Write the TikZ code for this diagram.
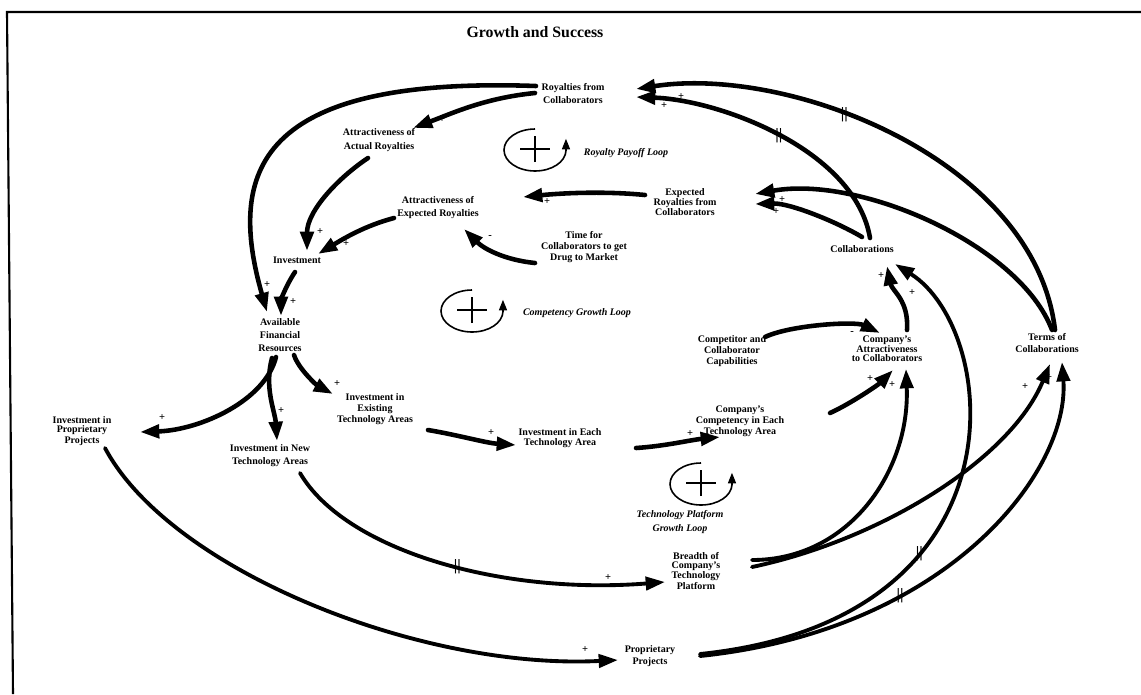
\documentclass[tikz,border=0pt]{standalone}
\usepackage{fontspec}
\setmainfont{Liberation Serif}
\usetikzlibrary{arrows.meta,calc}

\newcommand\vf[1]{\fontsize{5.7}{#1}\selectfont\bfseries}
\newcommand\lf[1]{\fontsize{5.7}{#1}\selectfont\bfseries\itshape}

\tikzset{
  var/.style={font=\vf{6.2}, align=center, inner sep=1pt},
  link/.style={line width=2.6pt, line cap=round, -{Triangle[length=11pt,width=7.5pt]}},
  thinlink/.style={link, line width=2.2pt},
  sgn/.style={font=\fontsize{6}{6}\selectfont\bfseries, inner sep=0pt},
  delay/.style={inner sep=0pt, font=\fontsize{9}{9}\selectfont\bfseries},
  rloop/.pic={
    \draw[line width=0.9pt, -{Triangle[length=6pt,width=4.5pt]}] (0,21) arc[start angle=90, end angle=358, x radius=31, y radius=21] -- ++(0,12);
    \draw[line width=1pt] (-15,1) -- (15,1) (0,-12) -- (0,14);
  }
}

\begin{document}
\begin{tikzpicture}[x=0.02cm, y=0.02cm]
  \useasboundingbox (0,0) rectangle (1141,-694);
  % frame
  \draw[line width=1.2pt] (13,-694) -- (7,-12) -- (1141,-12);
  \node[font=\fontsize{9}{10}\selectfont\bfseries] (title) at (535,-32) {Growth and Success};

  % variables
  \node[var, font=\vf{7.4}] (roy) at (573,-94) {Royalties from\\Collaborators};
  \node[var, font=\vf{8}] (aar) at (379,-140) {Attractiveness of\\Actual Royalties};
  \node[var, font=\vf{7.4}] (aer) at (438,-208) {Attractiveness of\\Expected Royalties};
  \node[var, font=\vf{5.7}] (erc) at (685,-202) {Expected\\Royalties from\\Collaborators};
  \node[var] (tcd) at (584,-247) {Time for\\Collaborators to get\\Drug to Market};
  \node[var] (inv) at (297,-260) {Investment};
  \node[var, font=\vf{7.4}] (afr) at (280,-335) {Available\\Financial\\Resources};
  \node[var] (col) at (862,-249) {Collaborations};
  \node[var, font=\vf{6.5}] (ccc) at (732,-351) {Competitor and\\Collaborator\\Capabilities};
  \node[var, font=\vf{5.4}] (cac) at (887,-349) {Company's\\Attractiveness\\to Collaborators};
  \node[var, font=\vf{6.3}] (toc) at (1047,-343) {Terms of\\Collaborations};
  \node[var, font=\vf{6.3}] (iet) at (375,-409) {Investment in\\Existing\\Technology Areas};
  \node[var, font=\vf{5.1}] (ipp) at (82,-431) {Investment in\\Proprietary\\Projects};
  \node[var, font=\vf{7.4}] (int) at (270,-456) {Investment in New\\Technology Areas};
  \node[var, font=\vf{5.7}] (iea) at (560,-438) {Investment in Each\\Technology Area};
  \node[var, font=\vf{4.6}] (cce) at (740,-421) {Company's\\Competency in Each\\Technology Area};
  \node[var, font=\vf{5.1}] (bct) at (696,-571) {Breadth of\\Company's\\Technology\\Platform};
  \node[var, font=\vf{6.8}] (prp) at (650,-656) {Proprietary\\Projects};

  % loops
  \pic (proy) at (535,-150) {rloop};
  \pic (pcomp) at (472,-311) {rloop};
  \pic (ptech) at (701,-484) {rloop};
  \node[var, font=\lf{6}] (lroy) at (626,-153) {Royalty Payoff Loop};
  \node[var, font=\lf{6}] (lcomp) at (577,-313) {Competency Growth Loop};
  \node[var, font=\lf{8}] (ltech) at (680,-522) {Technology Platform\\Growth Loop};

  % royalties
  \draw[link] ($(roy)+(-37,8)$) .. controls +(-280,10) and +(-40,140) .. ($(afr)+(-13,23)$);
  \draw[link] ($(roy)+(-38,1)$) .. controls +(-50,-5) and +(40,15) .. ($(aar)+(34,12)$);
  \draw[link] ($(aar)+(-11,-18)$) .. controls +(-30,-20) and +(0,40) .. ($(inv)+(10,9)$);
  \draw[link] ($(aer)+(-44,-10)$) .. controls +(-30,-8) and +(25,15) .. ($(inv)+(21,6)$);
  \draw[link] ($(inv)+(-2,-12)$) .. controls +(-10,-15) and +(0,15) .. ($(afr)+(1,19)$);
  \draw[link] ($(erc)+(-40,7)$) .. controls +(-40,4) and +(40,4) .. ($(aer)+(85,11)$);
  \draw[link] ($(tcd)+(-49,-16)$) .. controls +(-30,3) and +(20,-20) .. ($(aer)+(26,-21)$);

  % collaborations
  \draw[link] ($(col)+(8,11)$) .. controls +(-15,88) and +(84,-3) .. ($(roy)+(63,-3)$) node[delay, pos=.5] {||};
  \draw[link] ($(toc)+(8,13)$) .. controls +(-20,170) and +(154,24) .. ($(roy)+(63,5)$) node[delay, pos=.6] {||};
  \draw[link] ($(toc)+(5,13)$) .. controls +(-32,85) and +(105,19) .. ($(erc)+(70,8)$);
  \draw[link] ($(col)+(0,12)$) .. controls +(-25,15) and +(35,1) .. ($(erc)+(70,-2)$);
  \draw[link] ($(cac)+(20,19)$) .. controls +(2,30) and +(5,-25) .. ($(col)+(25,-17)$);
  \draw[link] ($(ccc)+(33,14)$) .. controls +(25,12) and +(-25,12) .. ($(cac)+(-7,16)$);
  \draw[link] ($(cce)+(90,8)$) .. controls +(20,9) and +(-15,-15) .. ($(cac)+(6,-21)$);
  \draw[thinlink] ($(bct)+(56,11)$) .. controls +(98,0) and +(4,-101) .. ($(cac)+(19,-20)$);
  \draw[thinlink] ($(bct)+(56,4)$) .. controls +(128,27) and +(-40,-96) .. ($(toc)+(3,-21)$);
  \draw[thinlink] ($(prp)+(50,2)$) .. controls +(330,34) and +(105,-66) .. ($(col)+(33,-15)$) node[delay, pos=.33] {||};
  \draw[thinlink] ($(prp)+(50,0)$) .. controls +(250,26) and +(8,-108) .. ($(toc)+(15,-19)$) node[delay, pos=.32] {||};

  % investment
  \draw[link] ($(afr)+(14,-20)$) .. controls +(5,-15) and +(-15,8) .. ($(iet)+(-42,15)$);
  \draw[link] ($(afr)+(-8,-23)$) .. controls +(-8,-30) and +(-2,30) .. ($(int)+(7,15)$);
  \draw[link] ($(afr)+(-4,-22)$) .. controls +(-11,-44) and +(60,2) .. ($(ipp)+(58,-1)$);
  \draw[link] ($(iet)+(53,-21)$) .. controls +(30,-5) and +(-30,2) .. ($(iea)+(-44,-7)$);
  \draw[link] ($(iea)+(76,-10)$) .. controls +(30,2) and +(-30,-3) .. ($(cce)+(-20,-16)$);
  \draw[thinlink] ($(int)+(30,-17)$) .. controls +(45,-77) and +(-165,-13) .. ($(bct)+(-31,-11)$) node[delay, pos=.55] {||};
  \draw[thinlink] ($(ipp)+(23,-17)$) .. controls +(65,-122) and +(-198,-10) .. ($(prp)+(-32,-4)$);

  % polarities
  \foreach \sx/\sy [count=\i] in {442/120, 267/285, 320/232, 346/244, 293/302, 547/202, 681/97, 664/106,
      782/200, 776/212, 881/276, 912/293, 870/379, 892/385, 1025/387, 1049/378, 690/434, 491/433,
      337/384, 281/411, 162/418, 608/578, 585/650}
    \node[sgn] (plus\i) at (\sx,-\sy) {+};
  \node[sgn] (minus1) at (490,-237) {-};
  \node[sgn] (minus2) at (852,-333) {-};
\end{tikzpicture}
\end{document}
